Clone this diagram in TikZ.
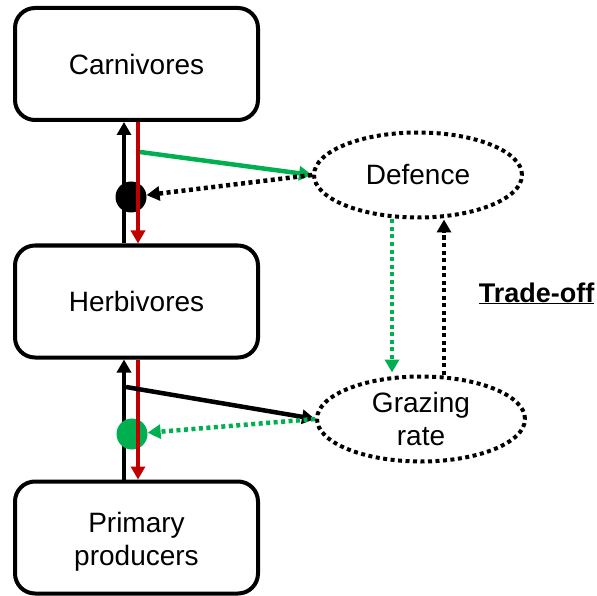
\documentclass[tikz,border=0pt]{standalone}
\usepackage{fontspec}
\setmainfont{Liberation Sans}
\usetikzlibrary{arrows.meta,shapes.geometric}
\definecolor{predred}{RGB}{192,0,0}
\definecolor{leafgreen}{RGB}{0,176,80}
\begin{document}
\begin{tikzpicture}[x=1pt,y=-1pt,
  label font/.style={font=\fontsize{28}{33.5}\selectfont},
  level/.style={draw, line width=4pt, rounded corners=20pt,
    minimum width=243pt, minimum height=112pt, inner sep=0pt,
    align=center, label font},
  trait/.style={ellipse, draw, line width=4pt, dash pattern=on 4pt off 3.5pt,
    minimum width=208pt, minimum height=85pt, inner sep=0pt,
    align=center, label font},
  flow/.style={line width=4.5pt, -{Triangle[length=13pt,width=14pt]}},
  dotflow/.style={flow, dash pattern=on 4pt off 3.5pt},
  hub/.style={circle, minimum size=31pt, inner sep=0pt}
]
\useasboundingbox (0,0) rectangle (597,596);

% trophic levels
\node[level] (carn) at (136.5,64) {Carnivores};
\node[level] (herb) at (136.5,301.5) {Herbivores};
\node[level] (prim) at (136.5,537.5) {};
\node[align=center, label font, inner sep=0pt] (primtext) at (136.5,542) {Primary\\producers};

% traits
\node[trait] (def) at (418,175) {Defence};
\node[trait] (graz) at (421,419) {Grazing\\rate};

\node[anchor=base, font=\fontsize{27}{30}\selectfont\bfseries] (trade) at (536.5,302) {\underline{Trade-off}};

% columns of the vertical flows
\coordinate (upx) at (124,0);
\coordinate (downx) at (138,0);
\coordinate (gx) at (392,0);
\coordinate (bx) at (444,0);
\coordinate (gsrc) at (140,152);
\coordinate (bsrc) at (126,387);

% bottom-up flows
\draw[flow] (herb.north -| upx) -- (carn.south -| upx);
\draw[flow] (prim.north -| upx) -- (herb.south -| upx);

% interaction hubs
\node[hub, fill=black] (hubA) at (131,197) {};
\node[hub, fill=leafgreen] (hubB) at (132,434) {};

% top-down flows
\draw[flow, predred] (carn.south -| downx) -- (herb.north -| downx);
\draw[flow, predred] (herb.south -| downx) -- (prim.north -| downx);

% links to the traits
\draw[flow, leafgreen] (gsrc) -- (def.west);
\draw[flow] (bsrc) -- (graz.west);
\draw[dotflow] (def.west) -- (hubA);
\draw[dotflow, leafgreen] (graz.west) -- (hubB);

% trade-off between defence and grazing
\draw[dotflow, leafgreen, shorten >=2pt] (def.south -| gx) -- (graz.north -| gx);
\draw[dotflow] (graz.north -| bx) -- (def.south -| bx);
\end{tikzpicture}
\end{document}
